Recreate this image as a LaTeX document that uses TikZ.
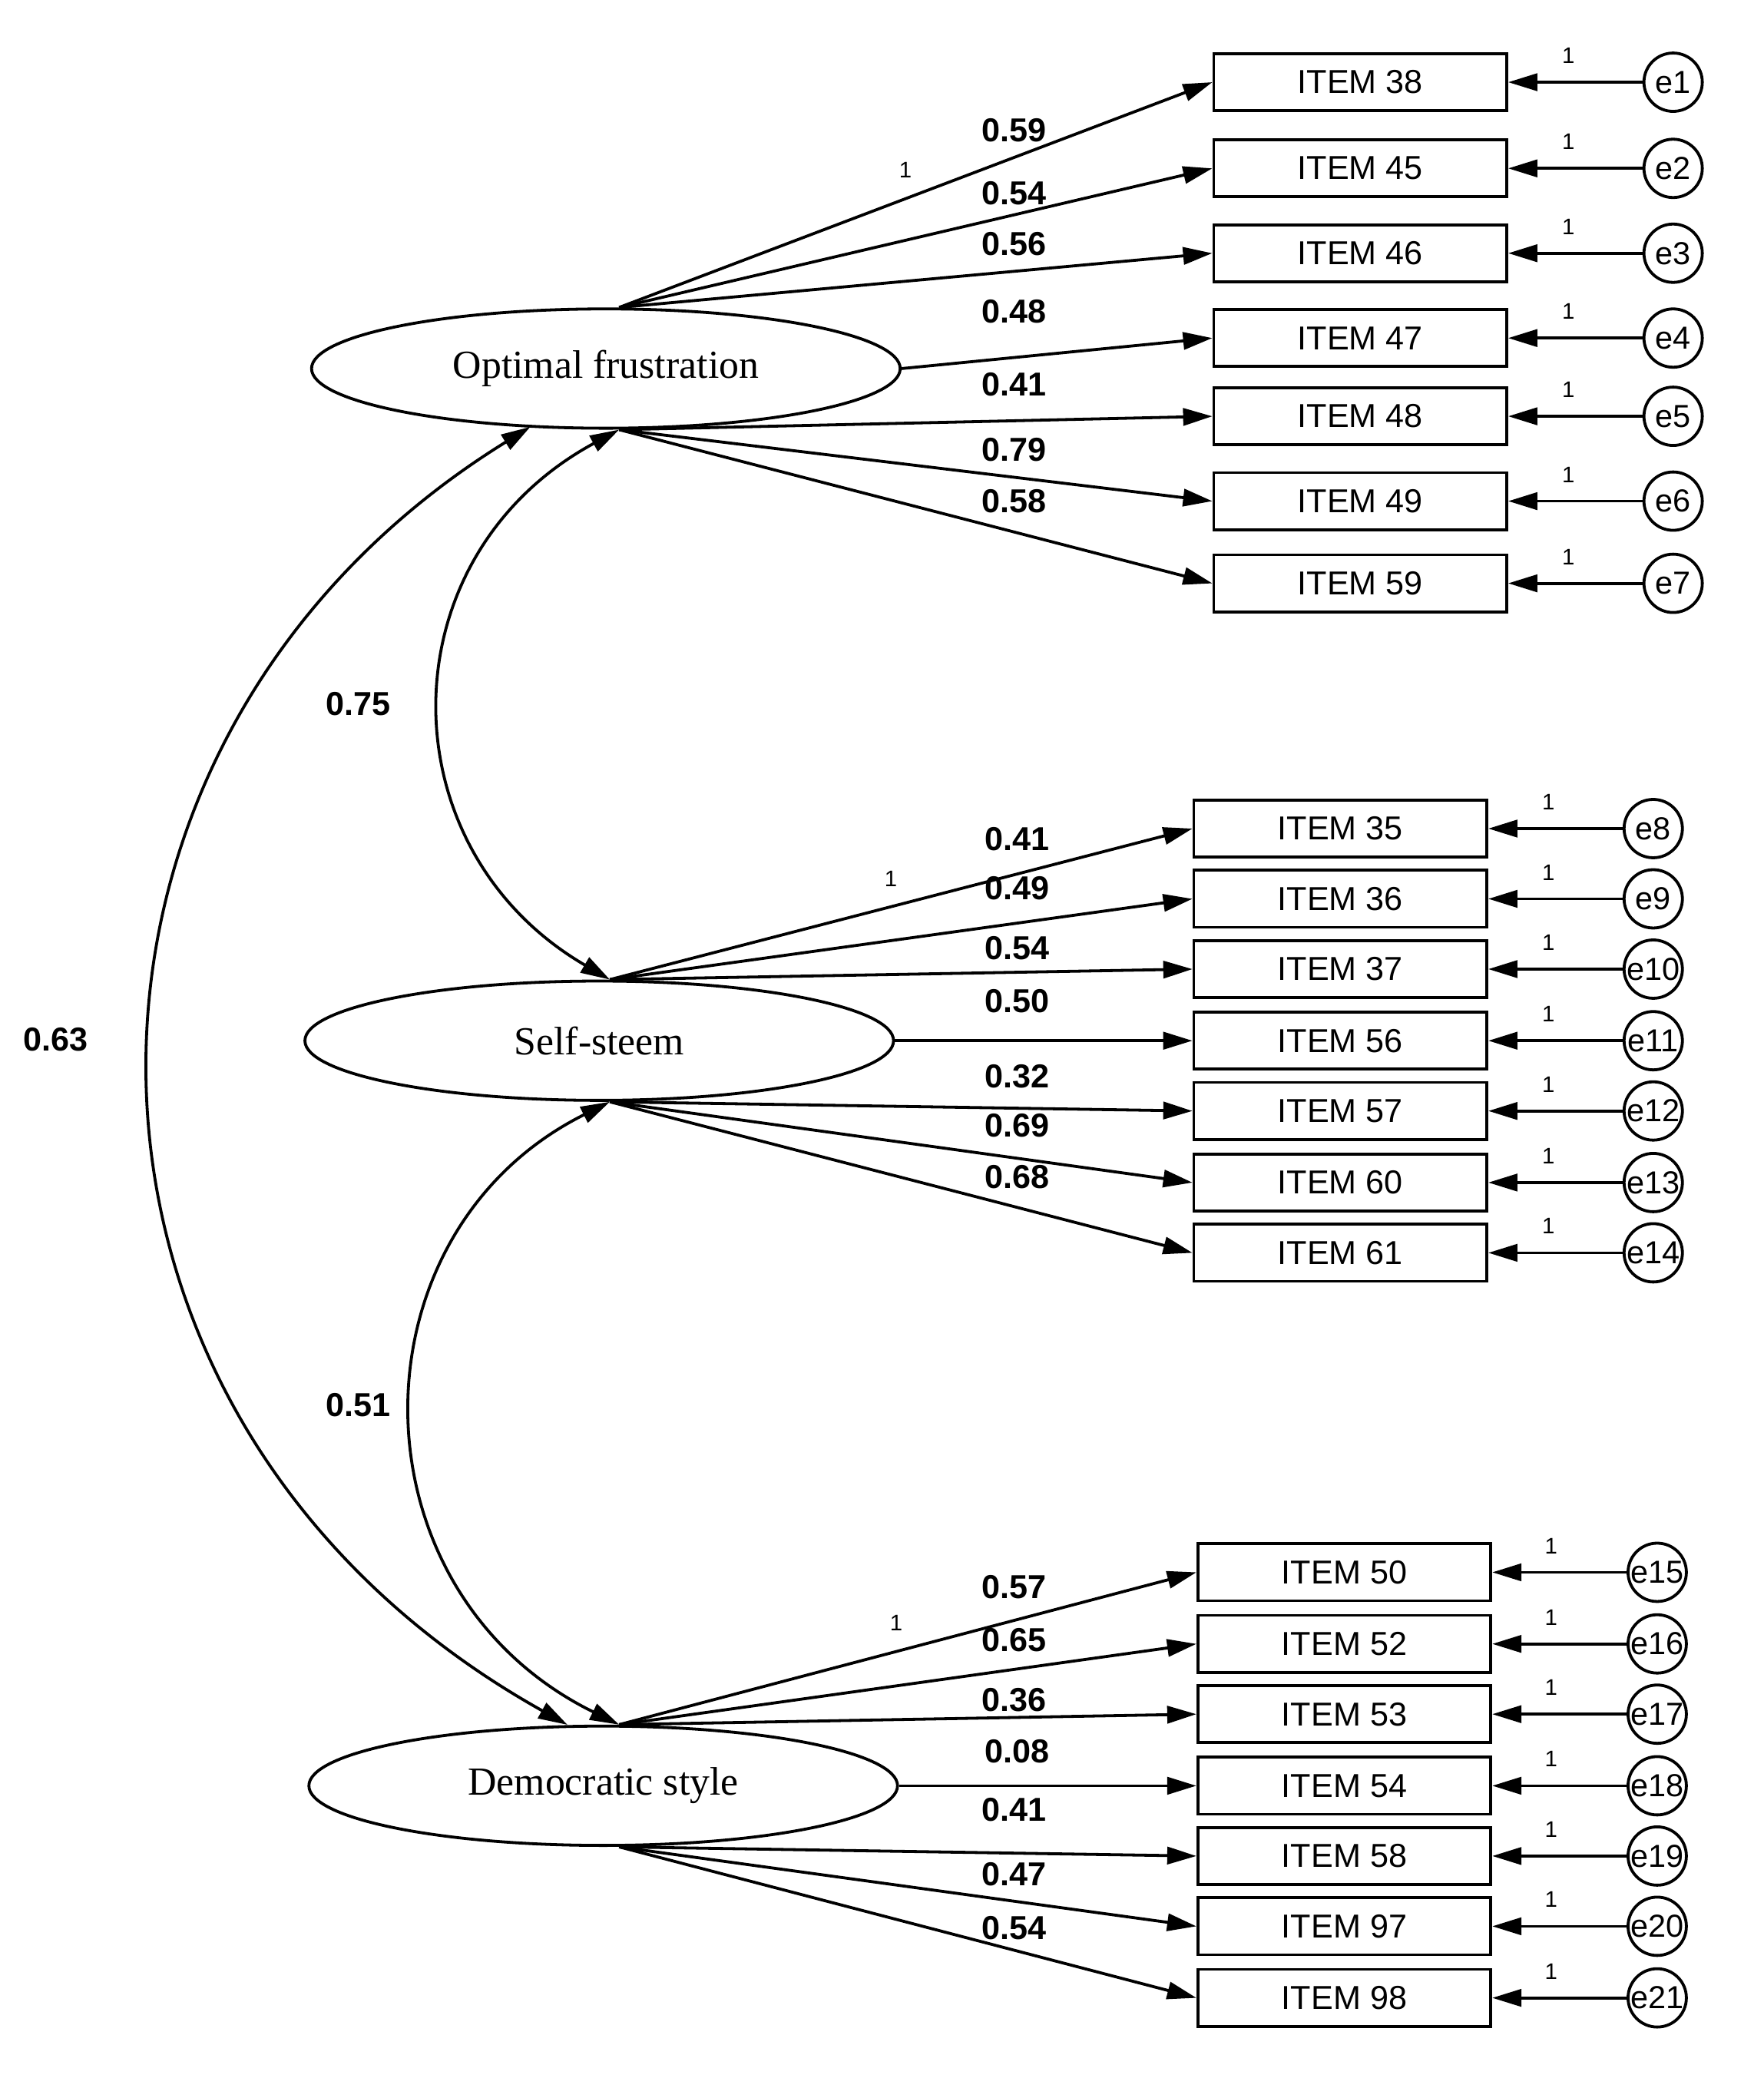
\documentclass[tikz,border=0pt]{standalone}
\usepackage{fontspec}
\setmainfont{Liberation Serif}
\newfontfamily\arialf{Liberation Sans}
\usetikzlibrary{arrows.meta,calc}
\begin{document}
\begin{tikzpicture}[x=1pt,y=-1pt,
  lw/.style={line width=2.2pt},
  arr/.style={lw,-{Triangle[length=22pt,width=13pt]}},
  darr/.style={lw,{Triangle[length=22pt,width=13pt]}-{Triangle[length=22pt,width=13pt]}},
  box/.style={draw,lw,minimum width=221pt,minimum height=43pt,inner sep=0pt,font=\arialf\fontsize{25}{28}\selectfont},
  err/.style={draw,lw,circle,minimum size=44pt,inner sep=0pt,font=\arialf\fontsize{24}{26}\selectfont},
  lat/.style={draw,lw,ellipse,minimum width=444pt,minimum height=90pt,inner sep=0pt,font=\fontsize{30}{34}\selectfont},
  val/.style={font=\arialf\bfseries\fontsize{25}{28}\selectfont},
  one/.style={font=\arialf\fontsize{17}{19}\selectfont}]
\useasboundingbox (0,0) rectangle (1330,1575);
\usetikzlibrary{shapes.geometric}
\node[lat] (OF) at (457,278) {Optimal frustration};
\node[lat] (SS) at (452,785) {Self-steem};
\node[lat] (DS) at (455,1347) {Democratic style};
% group 1
\foreach \n/\y/\lab/\v/\s in {1/62/38/0.59/n, 2/127/45/0.54/n, 3/191/46/0.56/n, 4/255/47/0.48/e, 5/314/48/0.41/s, 6/378/49/0.79/s, 7/440/59/0.58/s}{
  \node[box] (i\n) at (1026,\y) {ITEM \lab};
  \node[err] (e\n) at (1262,\y) {e\n};
  \draw[arr] (e\n) -- (i\n.east);
  \node[one] at (1183,\y-20) {1};
}
\foreach \n/\v/\yy in {1/0.59/98, 2/0.54/146, 3/0.56/184}{\draw[arr] ($(OF.north)+(10,0)$) -- (i\n.west); \node[val] at (765,\yy) {\v};}
\draw[arr] (OF.east) -- (i4.west); \node[val] at (765,235) {0.48};
\foreach \n/\v/\yy in {5/0.41/290, 6/0.79/339, 7/0.58/378}{\draw[arr] ($(OF.south)+(10,0)$) -- (i\n.west); \node[val] at (765,\yy) {\v};}
\node[one] at (683,128) {1};
% group 2
\foreach \n/\y/\lab in {8/625/35, 9/678/36, 10/731/37, 11/785/56, 12/838/57, 13/892/60, 14/945/61}{
  \node[box] (i\n) at (1011,\y) {ITEM \lab};
  \node[err] (e\n) at (1247,\y) {e\n};
  \draw[arr] (e\n) -- (i\n.east);
  \node[one] at (1168,\y-20) {1};
}
\foreach \n/\v/\yy in {8/0.41/633, 9/0.49/670, 10/0.54/715}{\draw[arr] ($(SS.north)+(8,0)$) -- (i\n.west); \node[val] at (767,\yy) {\v};}
\draw[arr] (SS.east) -- (i11.west); \node[val] at (767,755) {0.50};
\foreach \n/\v/\yy in {12/0.32/812, 13/0.69/849, 14/0.68/888}{\draw[arr] ($(SS.south)+(8,0)$) -- (i\n.west); \node[val] at (767,\yy) {\v};}
\node[one] at (672,663) {1};
% group 3
\foreach \n/\y/\lab in {15/1186/50, 16/1240/52, 17/1293/53, 18/1347/54, 19/1400/58, 20/1453/97, 21/1507/98}{
  \node[box] (i\n) at (1014,\y) {ITEM \lab};
  \node[err] (e\n) at (1250,\y) {e\n};
  \draw[arr] (e\n) -- (i\n.east);
  \node[one] at (1170,\y-20) {1};
}
\foreach \n/\v/\yy in {15/0.57/1197, 16/0.65/1237, 17/0.36/1282}{\draw[arr] ($(DS.north)+(12,0)$) -- (i\n.west); \node[val] at (765,\yy) {\v};}
\draw[arr] (DS.east) -- (i18.west); \node[val] at (767,1321) {0.08};
\foreach \n/\v/\yy in {19/0.41/1365, 20/0.47/1414, 21/0.54/1454}{\draw[arr] ($(DS.south)+(12,0)$) -- (i\n.west); \node[val] at (765,\yy) {\v};}
\node[one] at (676,1224) {1};
% covariances
\coordinate (a1) at ($(OF.south)+(10,0)$);
\coordinate (a2) at ($(SS.north)+(8,0)$);
\coordinate (b1) at ($(SS.south)+(8,0)$);
\coordinate (b2) at ($(DS.north)+(12,0)$);
\coordinate (c1) at (400,322);
\coordinate (c2) at (428,1301);
\draw[darr] (a1) .. controls (290,420) and (290,640) .. (a2);
\draw[darr] (b1) .. controls (262,930) and (262,1200) .. (b2);
\draw[darr] (c1) .. controls (15,560) and (15,1070) .. (c2);
\node[val] at (270,531) {0.75};
\node[val] at (42,784) {0.63};
\node[val] at (270,1060) {0.51};
\end{tikzpicture}
\end{document}
